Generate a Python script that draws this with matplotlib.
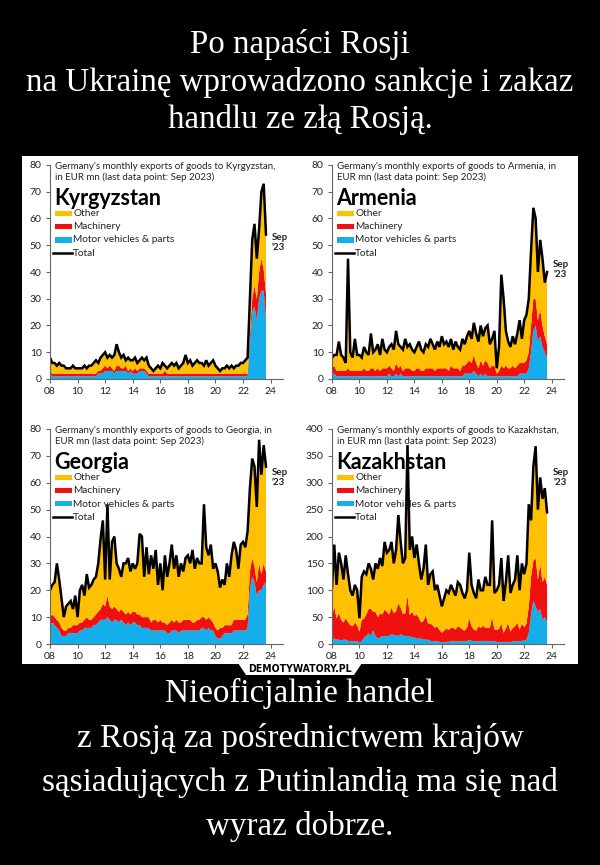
import matplotlib
matplotlib.use('Agg')
import matplotlib.pyplot as plt
import numpy as np
from matplotlib.patches import Rectangle, Polygon
from matplotlib.lines import Line2D

# ---------------- data (bimonthly readings, Jan 2008 .. Sep 2023) ----------------
kg_total = [8,6,6,5,6,5, 5,4,4,4,5,4, 4,4,4,5,4,5, 5,6,7,6,8,9, 10,8,9,8,9,13, 10,8,9,7,8,7,
            7,8,6,7,8,7, 8,5,4,3,4,5, 4,6,5,4,5,6, 5,6,4,5,6,9, 6,7,5,6,7,6, 6,5,7,5,6,7,
            5,4,3,4,4,5, 4,5,4,5,5,6, 6,7,8,30,52,58, 45,56,70,73,54]
kg_motor = [2,1,1,1,1,1, 1,1,1,1,1,1, 1,1,1,1,1,1, 1,1,1,2,2,2, 3,3,3,3,2,3, 3,3,3,3,2,3,
            2,2,2,3,3,3, 2,1,1,1,1,1, 1,1,1,1,1,1, 1,1,1,1,1,1, 1,1,1,1,1,1, 1,1,1,1,1,1,
            1,1,1,1,1,1, 1,1,1,1,1,1, 1,1,1,12,25,27, 22,30,33,33,22]
kg_mach = [1,1,1,1,1,1, 1,1,1,1,1,1, 1,1,1,1,1,1, 1,1,1,1,1,2, 2,1,2,1,1,2, 2,1,1,2,1,1,
           1,2,1,1,1,1, 1,1,1,1,1,1, 1,1,2,1,1,1, 1,1,1,1,1,1, 1,1,1,1,1,1, 1,1,1,1,1,1,
           1,1,1,1,1,1, 1,1,1,1,1,1, 1,1,1,4,5,8, 8,10,12,8,10]

am_total = [8,9,9,14,9,8, 6,45,10,8,15,9, 9,8,12,10,9,17, 10,11,13,9,15,11, 10,12,13,11,18,13,
            12,11,15,12,13,11, 10,12,14,11,10,13, 12,15,13,11,14,12, 16,13,14,12,15,11,
            14,12,11,15,13,16, 18,15,21,17,14,20, 16,19,20,13,15,18, 4,12,39,30,18,14,
            12,16,13,17,22,15, 22,24,30,48,64,60, 40,52,45,36,40]
am_motor = [2,2,1,1,1,1, 1,1,1,1,1,1, 1,1,1,1,1,1, 1,1,1,1,1,1, 1,2,1,1,2,1, 2,1,1,1,1,1,
            1,1,1,1,1,1, 1,1,1,1,1,1, 1,1,1,1,1,1, 1,1,1,1,2,2, 2,2,3,2,1,2, 1,2,1,1,1,1,
            1,1,1,1,1,1, 1,1,1,1,2,2, 2,2,4,10,18,20, 14,16,12,10,8]
am_mach = [2,3,2,2,2,2, 2,3,2,2,2,2, 2,2,3,2,2,3, 3,2,3,2,3,3, 3,3,3,2,4,3, 3,2,3,3,3,2,
           2,3,3,2,2,3, 3,3,3,2,3,3, 3,3,3,2,4,3, 3,3,2,4,3,4, 5,4,6,4,3,5, 4,5,5,3,4,4,
           1,2,4,3,4,3, 3,4,3,4,4,4, 4,5,6,10,12,10, 8,10,8,6,5]

ge_total = [20,22,23,30,24,17, 10,14,15,16,13,18, 10,20,22,18,26,21, 22,24,25,30,39,46,
            24,52,24,38,40,30, 28,25,30,30,32,27, 30,28,30,41,40,25, 36,26,33,28,35,22,
            30,20,33,25,30,37, 28,33,25,30,27,32, 33,30,35,28,32,30, 30,52,36,33,37,28,
            30,27,21,24,22,30, 25,33,38,35,28,37, 38,36,42,58,69,66, 51,76,63,74,66]
ge_motor = [7,8,7,6,5,3, 3,3,4,4,4,4, 4,5,5,6,6,6, 6,7,7,8,9,9, 9,10,9,8,9,9, 8,9,8,7,8,7,
            8,8,7,7,6,6, 6,6,5,5,5,5, 5,5,5,4,4,5, 5,5,4,5,5,5, 5,5,5,5,5,5, 6,6,5,6,5,5,
            3,2,2,3,4,4, 4,4,5,5,5,5, 5,5,6,20,25,23, 18,20,20,22,23]
ge_mach = [3,3,3,3,3,3, 2,2,2,2,3,3, 3,3,3,3,4,3, 3,3,4,4,4,6, 5,8,5,5,5,4, 4,4,4,4,4,4,
           4,4,4,4,4,4, 4,4,3,4,4,3, 4,3,3,3,4,4, 3,4,4,3,4,4, 4,4,3,3,4,4, 4,4,4,4,4,3,
           3,3,4,3,3,3, 3,3,4,4,4,4, 4,4,5,7,7,6, 5,10,6,8,4]

kz_total = [105,185,110,170,150,120, 165,130,100,90,110,100, 48,125,135,130,150,140,
            120,150,140,160,145,190, 170,175,190,150,175,240, 190,150,160,370,175,200,
            160,185,150,120,140,185, 110,130,135,100,110,90, 70,85,100,95,110,100,
            90,115,110,95,85,100, 170,110,95,85,120,100, 100,125,110,110,230,95,
            100,110,160,80,115,165, 95,110,120,165,100,150, 130,150,260,230,330,368,
            250,310,270,290,245]
kz_motor = [10,10,8,8,7,8, 8,6,5,5,5,5, 3,5,12,15,20,15, 25,15,10,12,15,14, 15,15,18,17,16,15,
            18,16,15,15,14,12, 12,10,10,10,8,8, 8,6,5,5,5,4, 3,3,4,4,5,5, 5,5,5,5,5,5,
            8,6,5,5,5,5, 6,5,5,5,5,5, 4,3,3,3,4,4, 3,5,5,5,5,6, 6,8,20,55,80,70,
            60,65,45,50,40]
kz_mach = [40,60,40,50,38,32, 40,35,30,28,35,30, 20,40,35,40,45,50, 35,45,40,45,40,50,
           45,40,50,40,45,60, 50,40,42,75,40,48, 40,45,38,30,35,45, 30,32,30,25,28,22,
           18,22,25,22,25,25, 22,28,26,22,20,25, 40,27,22,20,28,25, 28,25,25,25,45,22,
           22,25,35,18,25,35, 20,25,28,35,22,32, 25,30,50,70,75,90, 60,85,70,75,70]

countries = ["Kyrgyzstan", "Armenia", "Georgia", "Kazakhstan"]
subtitles = ["Germany's monthly exports of goods to Kyrgyzstan,\nin EUR mn (last data point: Sep 2023)",
             "Germany's monthly exports of goods to Armenia, in\nEUR mn (last data point: Sep 2023)",
             "Germany's monthly exports of goods to Georgia, in\nEUR mn (last data point: Sep 2023)",
             "Germany's monthly exports of goods to Kazakhstan,\nin EUR mn (last data point: Sep 2023)"]
series = [(kg_total, kg_motor, kg_mach), (am_total, am_motor, am_mach),
          (ge_total, ge_motor, ge_mach), (kz_total, kz_motor, kz_mach)]
ymax = [80, 80, 80, 400]
ystep = [10, 10, 10, 50]
sep_y = [51, 41, 62, 310]
legend_labels = ["Other", "Machinery", "Motor vehicles & parts", "Total"]
xtick_years = [2008, 2010, 2012, 2014, 2016, 2018, 2020, 2022, 2024]
xtick_labels = ["08", "10", "12", "14", "16", "18", "20", "22", "24"]

title_lines = ["Po napaści Rosji", "na Ukrainę wprowadzono sankcje i zakaz", "handlu ze złą Rosją."]
caption_lines = ["Nieoficjalnie handel", "z Rosją za pośrednictwem krajów",
                 "sąsiadujących z Putinlandią ma się nad", "wyraz dobrze."]

C_OTHER, C_MACH, C_MOTOR = '#FFC000', '#F01010', '#14AEEA'

# ---------------- layout ----------------
W, H = 600, 865
fig = plt.figure(figsize=(W / 100, H / 100), dpi=100, facecolor='black')

def fx(x):
    return x / W

def fy(y):
    return 1 - y / H

SANS = ['Lato', 'DejaVu Sans']
SERIF = ['Liberation Serif', 'DejaVu Serif']

def fit(txt, target):
    fig.canvas.draw()
    w = txt.get_window_extent().width
    txt.set_fontsize(txt.get_fontsize() * target / w)

# white picture panel and demotywatory tab
fig.add_artist(Rectangle((fx(22), fy(664)), (578 - 22) / W, (664 - 156) / H,
                         transform=fig.transFigure, facecolor='white', edgecolor='none', zorder=0))
fig.add_artist(Polygon([(fx(238), fy(663)), (fx(246), fy(675)), (fx(354), fy(675)), (fx(362), fy(663))],
                       closed=True, transform=fig.transFigure, facecolor='white', edgecolor='none', zorder=0))
demo = fig.text(fx(300), fy(668.5), "DEMOTYWATORY.PL", ha='center', va='center', color='black',
                fontsize=9.5, fontweight='bold', family=['DejaVu Sans'], fontstretch='condensed', zorder=5)
fit(demo, 104)

# axes boxes (left, right, top, bottom) in pixels
boxes = [(50, 283, 165, 379), (332, 564, 165, 379), (50, 283, 429, 644), (332, 564, 429, 644)]

for i, (name, sub, (tot, mot, mac)) in enumerate(zip(countries, subtitles, series)):
    l, r, t, b = boxes[i]
    ax = fig.add_axes([fx(l), fy(b), (r - l) / W, (b - t) / H])
    ax.patch.set_visible(False)
    n = len(tot)
    x = 2008 + np.arange(n) * 2 / 12
    tot_a = np.array(tot, float)
    mot_a = np.array(mot, float)
    mac_a = np.array(mac, float)
    oth_a = np.clip(tot_a - mot_a - mac_a, 0, None)
    ax.stackplot(x, mot_a, mac_a, oth_a, colors=[C_MOTOR, C_MACH, C_OTHER], linewidth=0)
    ax.plot(x, tot_a, color='black', lw=1.8, solid_joinstyle='miter')
    ax.set_xlim(2008, 2024.9)
    ax.set_ylim(0, ymax[i])
    ax.set_yticks(np.arange(0, ymax[i] + 1, ystep[i]))
    ax.set_xticks(xtick_years)
    ax.set_xticklabels(xtick_labels)
    for s in ['top', 'right']:
        ax.spines[s].set_visible(False)
    for s in ['left', 'bottom']:
        ax.spines[s].set_color('#666666')
        ax.spines[s].set_linewidth(0.8)
    ax.tick_params(axis='both', labelsize=7.5, length=3, width=0.8, color='#666666',
                   labelcolor='#222222', pad=3)
    for lab in ax.get_xticklabels() + ax.get_yticklabels():
        lab.set_family(SANS)
    ax.text(2024.1, sep_y[i], "Sep\n'23", ha='left', va='center', fontsize=7, fontweight='bold',
            family=SANS, color='#222222', linespacing=1.2)

    # subtitle, country name, legend
    fig.text(fx(l + 5), fy(t + 7), sub, ha='left', va='center', fontsize=7, family=SANS,
             color='#222222', linespacing=1.25)
    fig.text(fx(l + 4), fy(t + 40), name, ha='left', va='baseline', fontsize=15.5,
             fontweight='bold', family=SANS, color='black')
    rows = [48.5, 61.5, 75, 88]
    cols = [C_OTHER, C_MACH, C_MOTOR]
    for k, lab in enumerate(legend_labels):
        yy = t + rows[k]
        if k < 3:
            fig.add_artist(Rectangle((fx(l + 5), fy(yy + 2.5)), 17 / W, 5 / H,
                                     transform=fig.transFigure, facecolor=cols[k], edgecolor='none', zorder=3))
        else:
            fig.add_artist(Line2D([fx(l + 3), fx(l + 22)], [fy(yy), fy(yy)], transform=fig.transFigure,
                                  color='black', lw=1.8, zorder=3))
        fig.text(fx(l + 23), fy(yy), lab, ha='left', va='center', fontsize=7.3, family=SANS,
                 color='#222222', zorder=4)

# ---------------- big meme texts ----------------
title_y = [45, 83, 120]
tts = []
for s, yy in zip(title_lines, title_y):
    tts.append(fig.text(0.5, fy(yy), s, ha='center', va='center', color='white', fontsize=20, family=SERIF))
fit(tts[1], 546)
for t_ in tts:
    t_.set_fontsize(tts[1].get_fontsize())

cap_y = [693, 738, 782, 826]
cts = []
for s, yy in zip(caption_lines, cap_y):
    cts.append(fig.text(0.5, fy(yy), s, ha='center', va='center', color='white', fontsize=22, family=SERIF))
fit(cts[2], 515)
for t_ in cts:
    t_.set_fontsize(cts[2].get_fontsize())

fig.savefig('out.png', dpi=100, facecolor='black')
